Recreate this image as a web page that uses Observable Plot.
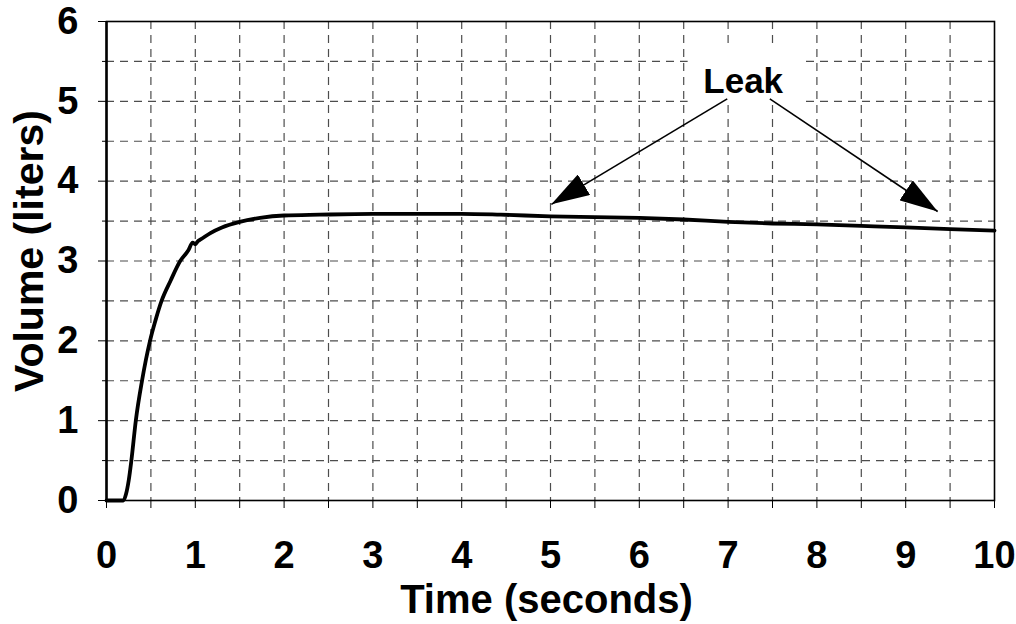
<!DOCTYPE html>
<html>
<head>
<meta charset="utf-8">
<script src="https://cdn.jsdelivr.net/npm/d3@7"></script>
<script src="https://cdn.jsdelivr.net/npm/@observablehq/plot@0.6"></script>
<style>
  html, body { margin: 0; padding: 0; background: #fff; }
  #chart { width: 1016px; height: 624px; }
</style>
</head>
<body>
<div id="chart"></div>
<script>
// Data
const time   = [0, 0.1, 0.19, 0.22, 0.25, 0.28, 0.33, 0.40, 0.49, 0.55, 0.62, 0.72, 0.83, 0.92, 0.97, 1.0, 1.03, 1.06, 1.17, 1.3, 1.5, 1.73, 2.0, 2.4, 3.0, 3.5, 4.0, 4.44, 5.0, 5.5, 6.0, 6.5, 7.0, 7.5, 8.0, 8.5, 9.0, 9.5, 10];
const volume = [0, 0, 0, 0.08, 0.25, 0.5, 1.0, 1.5, 2.0, 2.25, 2.5, 2.75, 3.0, 3.13, 3.23, 3.21, 3.25, 3.27, 3.35, 3.42, 3.49, 3.54, 3.57, 3.58, 3.59, 3.59, 3.59, 3.58, 3.56, 3.55, 3.54, 3.52, 3.49, 3.47, 3.46, 3.44, 3.42, 3.40, 3.38];

const xTickLabels = [0, 1, 2, 3, 4, 5, 6, 7, 8, 9, 10];
const yTickLabels = [0, 1, 2, 3, 4, 5, 6];
const xHalfTicks  = [0.5, 1.5, 2.5, 3.5, 4.5, 5.5, 6.5, 7.5, 8.5, 9.5];
const yHalfTicks  = [0.5, 1.5, 2.5, 3.5, 4.5, 5.5];
const xGrid = [0.5, 1, 1.5, 2, 2.5, 3, 3.5, 4, 4.5, 5, 5.5, 6, 6.5, 7, 7.5, 8, 8.5, 9, 9.5];
const yGrid = [0.5, 1, 1.5, 2, 2.5, 3, 3.5, 4, 4.5, 5, 5.5];

// Annotation
const leakLabel = ["Leak"];
const leakLabelX = [7.17];
const leakLabelY = [5.10];
const arrowFromX = [6.99, 7.47];
const arrowFromY = [5.03, 5.03];
const arrowToX   = [5.01, 9.36];
const arrowToY   = [3.71, 3.62];
const leakBox = [{x1: 6.55, x2: 7.85, y1: 4.97, y2: 5.7}];

const curve = time.map((t, i) => ({t, v: volume[i]}));
const arrows = arrowFromX.map((x, i) => ({x1: x, y1: arrowFromY[i], x2: arrowToX[i], y2: arrowToY[i]}));

const FONT = "'Liberation Sans', Arial, Helvetica, sans-serif";

function triangleHead(color, context) {
  const doc = context.document;
  const ns = "http://www.w3.org/2000/svg";
  const m = doc.createElementNS(ns, "marker");
  m.setAttribute("viewBox", "0 -12 38 24");
  m.setAttribute("refX", "38");
  m.setAttribute("refY", "0");
  m.setAttribute("markerWidth", "38");
  m.setAttribute("markerHeight", "24");
  m.setAttribute("markerUnits", "userSpaceOnUse");
  m.setAttribute("orient", "auto");
  const p = doc.createElementNS(ns, "path");
  p.setAttribute("d", "M0,-12L38,0L0,12Z");
  p.setAttribute("fill", "black");
  p.setAttribute("stroke", "none");
  m.appendChild(p);
  return m;
}

const chart = Plot.plot({
  width: 1016,
  height: 624,
  marginLeft: 106,
  marginRight: 22,
  marginTop: 21,
  marginBottom: 124,
  style: {fontFamily: FONT, background: "#fff", color: "#000"},
  x: {domain: [0, 10]},
  y: {domain: [0, 6]},
  marks: [
    Plot.gridX(xGrid, {stroke: "#4d4d4d", strokeOpacity: 1, strokeWidth: 1.2, strokeDasharray: "8,6"}),
    Plot.gridY(yGrid, {stroke: "#4d4d4d", strokeOpacity: 1, strokeWidth: 1.2, strokeDasharray: "8,6"}),
    Plot.rect(leakBox, {x1: "x1", x2: "x2", y1: "y1", y2: "y2", fill: "white"}),
    Plot.frame({stroke: "black", strokeWidth: 1.6}),
    Plot.ruleX([0], {stroke: "black", strokeWidth: 2.5}),
    Plot.axisX({ticks: xTickLabels, tickSize: 8, tickPadding: 33, fontSize: 38, fontWeight: "bold", label: null, stroke: "black", tickFormat: d => String(d)}),
    Plot.axisX({ticks: xHalfTicks, tickSize: 8, text: null, label: null, stroke: "black"}),
    Plot.axisY({ticks: yTickLabels, tickSize: 8, tickPadding: 20, fontSize: 38, fontWeight: "bold", label: null, stroke: "black", tickFormat: d => String(d)}),
    Plot.axisY({ticks: yHalfTicks, tickSize: 4, text: null, label: null, stroke: "black"}),
    Plot.line(curve, {x: "t", y: "v", stroke: "black", strokeWidth: 3.8, curve: "monotone-x"}),
    Plot.link(arrows, {x1: "x1", y1: "y1", x2: "x2", y2: "y2", stroke: "black", strokeWidth: 1.6, markerEnd: triangleHead}),
    Plot.text(leakLabel, {x: leakLabelX, y: leakLabelY, text: d => d, fontSize: 35, fontWeight: "bold", lineAnchor: "bottom", textAnchor: "middle", fill: "black"}),
    Plot.text(["Time (seconds)"], {frameAnchor: "bottom", dy: 112, dx: -4, lineAnchor: "bottom", textAnchor: "middle", fontSize: 40, fontWeight: "bold", fill: "black"}),
    Plot.text(["Volume (liters)"], {frameAnchor: "left", dx: -64, dy: -10, rotate: -90, lineAnchor: "bottom", textAnchor: "middle", fontSize: 41, fontWeight: "bold", fill: "black"})
  ]
});
document.getElementById("chart").appendChild(chart);
</script>
</body>
</html>
